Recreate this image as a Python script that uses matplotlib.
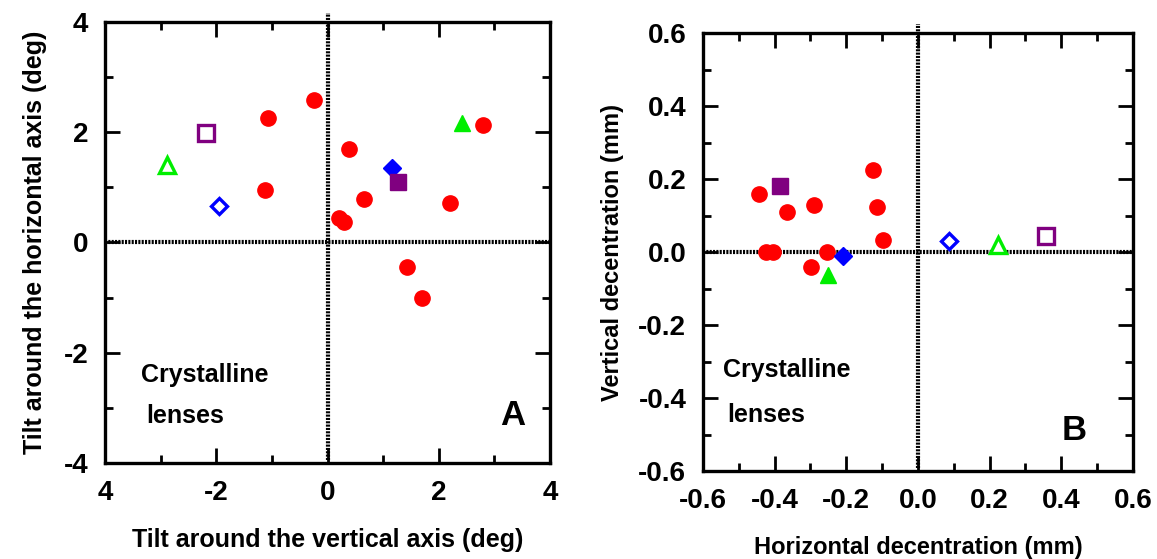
import matplotlib
matplotlib.use("Agg")
import matplotlib.pyplot as plt
from matplotlib.ticker import MultipleLocator, FixedLocator, FixedFormatter

plt.rcParams['font.family'] = ['Liberation Sans Narrow', 'Liberation Sans', 'DejaVu Sans']
plt.rcParams['font.weight'] = 'bold'
plt.rcParams['axes.labelweight'] = 'bold'

# Panel A: tilt (deg)
tilt_red_x = [-1.07, -0.25, -1.13, 0.39, 0.66, 0.20, 0.30, 2.20, 2.80, 1.43, 1.70]
tilt_red_y = [2.26, 2.58, 0.96, 1.70, 0.79, 0.45, 0.38, 0.72, 2.13, -0.44, -1.01]
tilt_open_sq = (-2.18, 1.99)
tilt_open_tri = (-2.88, 1.41)
tilt_open_dia = (-1.96, 0.66)
tilt_fill_tri = (2.42, 2.16)
tilt_fill_dia = (1.15, 1.36)
tilt_fill_sq = (1.27, 1.10)
tilt_xticks = [-4, -2, 0, 2, 4]
tilt_xlabels = ['4', '-2', '0', '2', '4']
tilt_yticks = [-4, -2, 0, 2, 4]
tilt_ylabels = ['-4', '-2', '0', '2', '4']

# Panel B: decentration (mm)
dec_red_x = [-0.445, -0.365, -0.291, -0.126, -0.113, -0.098, -0.423, -0.406, -0.254, -0.299]
dec_red_y = [0.159, 0.110, 0.128, 0.2235, 0.124, 0.033, 0.0, 0.0, 0.0, -0.042]
dec_open_sq = (0.357, 0.043)
dec_open_tri = (0.222, 0.020)
dec_open_dia = (0.088, 0.029)
dec_fill_tri = (-0.250, -0.064)
dec_fill_dia = (-0.209, -0.010)
dec_fill_sq = (-0.385, 0.180)
dec_ticks = [-0.6, -0.4, -0.2, 0.0, 0.2, 0.4, 0.6]
dec_labels = ['-0.6', '-0.4', '-0.2', '0.0', '0.2', '0.4', '0.6']

RED = '#ff0000'
GREEN = '#00ee00'
BLUE = '#0000ff'
PURPLE = '#800080'

fig = plt.figure(figsize=(11.57, 5.59), dpi=100)
axA = fig.add_axes([0.0908, 0.1717, 0.3846, 0.789])
axB = fig.add_axes([0.6076, 0.1574, 0.3716, 0.7835])


def draw_panel(ax, red_x, red_y, osq, otri, odia, ftri, fdia, fsq, ms):
    ax.plot(red_x, red_y, 'o', color=RED, ms=ms, mec=RED, zorder=3)
    ax.plot(*ftri, '^', color=GREEN, ms=ms + 1, mec=GREEN, zorder=3)
    ax.plot(*fdia, 'D', color=BLUE, ms=ms - 2, mec=BLUE, zorder=3)
    ax.plot(*fsq, 's', color=PURPLE, ms=ms + 0.5, mec=PURPLE, zorder=3)
    ax.plot(*otri, '^', mfc='white', mec=GREEN, mew=2.4, ms=ms, zorder=3)
    ax.plot(*odia, 'D', mfc='white', mec=BLUE, mew=2.4, ms=ms - 2.5, zorder=3)
    ax.plot(*osq, 's', mfc='white', mec=PURPLE, mew=2.4, ms=ms, zorder=3)


def style_axes(ax, lim, minor, xticks, xlabels, yticks, ylabels):
    ax.set_xlim(-lim, lim)
    ax.set_ylim(-lim, lim)
    ax.axhline(0, color='black', lw=3, ls=(0, (0.5, 0.3)), zorder=2)
    ax.plot([0, 0], [-lim * 0.985, lim * 1.04], color='black', lw=3,
            ls=(0, (0.5, 0.3)), clip_on=False, zorder=2)
    ax.xaxis.set_major_locator(FixedLocator(xticks))
    ax.xaxis.set_major_formatter(FixedFormatter(xlabels))
    ax.yaxis.set_major_locator(FixedLocator(yticks))
    ax.yaxis.set_major_formatter(FixedFormatter(ylabels))
    ax.xaxis.set_minor_locator(MultipleLocator(minor))
    ax.yaxis.set_minor_locator(MultipleLocator(minor))
    ax.tick_params(which='both', direction='in', top=True, right=True, width=2)
    ax.tick_params(which='major', length=11, labelsize=20, pad=12)
    ax.tick_params(which='minor', length=6)
    for s in ax.spines.values():
        s.set_linewidth(2.4)


draw_panel(axA, tilt_red_x, tilt_red_y, tilt_open_sq, tilt_open_tri, tilt_open_dia,
           tilt_fill_tri, tilt_fill_dia, tilt_fill_sq, 11)
style_axes(axA, 4, 1, tilt_xticks, tilt_xlabels, tilt_yticks, tilt_ylabels)
axA.set_xlabel('Tilt around the vertical axis (deg)', fontsize=18, labelpad=16)
axA.set_ylabel('Tilt around the horizontal axis (deg)', fontsize=18, labelpad=12)
axA.text(-3.36, -2.41, 'Crystalline', fontsize=18, va='center', ha='left')
axA.text(-3.26, -3.14, 'lenses', fontsize=18, va='center', ha='left')
axA.text(3.33, -3.14, 'A', fontsize=25, va='center', ha='center')

draw_panel(axB, dec_red_x, dec_red_y, dec_open_sq, dec_open_tri, dec_open_dia,
           dec_fill_tri, dec_fill_dia, dec_fill_sq, 11)
style_axes(axB, 0.6, 0.1, dec_ticks, dec_labels, dec_ticks, dec_labels)
axB.set_xlabel('Horizontal decentration (mm)', fontsize=17, labelpad=16)
axB.set_ylabel('Vertical decentration (mm)', fontsize=17, labelpad=10)
axB.text(-0.543, -0.323, 'Crystalline', fontsize=18, va='center', ha='left')
axB.text(-0.533, -0.447, 'lenses', fontsize=18, va='center', ha='left')
axB.text(0.435, -0.488, 'B', fontsize=25, va='center', ha='center')

fig.savefig('out.png', dpi=100)
